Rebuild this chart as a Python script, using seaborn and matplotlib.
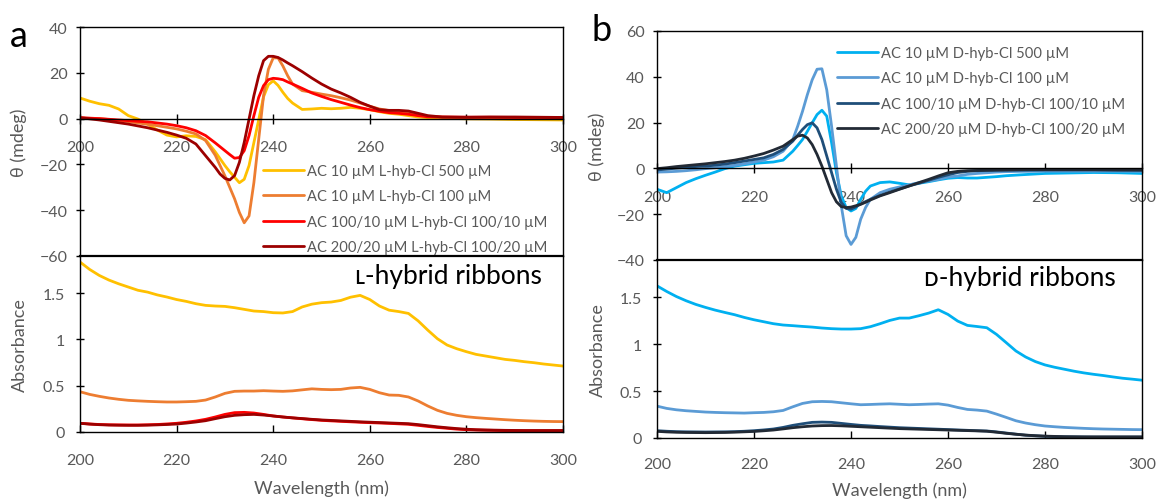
import numpy as np
import pandas as pd
import matplotlib
matplotlib.use("Agg")
import matplotlib.pyplot as plt
import seaborn as sns

# ---------------- data ----------------
CD_WL = [200, 202, 204, 206, 208, 210, 212, 214, 216, 218, 220, 222, 224, 226, 228, 229, 230, 231,
         232, 233, 234, 235, 236, 237, 238, 239, 240, 241, 242, 243, 244, 246, 248, 250, 252, 254,
         256, 258, 260, 262, 264, 266, 268, 270, 272, 275, 280, 285, 290, 295, 300]

CD_L_500 = [9.0, 7.6, 6.5, 5.8, 4.2, 1.3, -0.2, -2.4, -5.0, -7.2, -8.0, -7.5, -7.8, -9.2, -14.5, -17.5,
            -20.5, -23.2, -25.6, -28.0, -26.5, -20.5, -10.5, -0.5, 9.5, 14.8, 16.5, 14.5, 11.5, 8.8,
            6.8, 4.0, 4.2, 4.5, 4.3, 4.5, 4.9, 4.5, 3.9, 3.0, 2.3, 1.9, 1.3, 0.7, 0.4, 0.2, -0.1,
            -0.2, -0.4, -0.5, -0.6]
CD_L_100 = [0.3, 0.1, 0.0, -0.4, -0.9, -1.3, -1.9, -2.5, -3.1, -3.8, -4.5, -5.5, -6.7, -9.6, -16.0,
            -20.5, -25.0, -30.0, -35.0, -41.0, -45.5, -42.5, -28.0, -9.0, 10.0, 21.5, 26.5, 26.5,
            23.0, 18.7, 15.1, 12.2, 11.5, 10.7, 10.0, 9.1, 8.1, 6.8, 5.4, 4.2, 3.5, 3.0, 2.4, 1.6,
            1.0, 0.6, 0.5, 0.5, 0.4, 0.4, 0.3]
CD_L_100_10 = [0.4, 0.2, 0.0, -0.3, -0.6, -0.9, -1.2, -1.4, -1.9, -2.4, -3.1, -4.0, -5.3, -7.4, -10.6,
               -12.3, -14.0, -15.7, -17.3, -17.0, -14.0, -7.4, 1.3, 9.3, 14.4, 17.0, 17.6, 17.4,
               17.0, 16.0, 15.1, 13.2, 11.2, 9.7, 8.3, 7.1, 5.9, 4.8, 3.9, 3.2, 2.6, 2.3, 1.9, 1.3,
               0.8, 0.7, 0.6, 0.6, 0.5, 0.5, 0.4]
CD_L_100_20 = [0.4, -0.1, -0.6, -1.2, -1.8, -2.4, -3.2, -4.0, -5.0, -6.0, -7.2, -8.6, -11.1, -16.2,
               -21.3, -24.2, -26.1, -26.8, -24.9, -19.1, -10.4, -0.2, 10.0, 18.7, 25.3, 27.2, 27.2,
               26.7, 25.6, 24.3, 23.1, 20.5, 17.7, 15.1, 12.9, 11.2, 9.3, 7.1, 5.4, 3.9, 3.6, 3.6,
               3.3, 2.3, 1.3, 0.7, 0.6, 0.7, 0.7, 0.6, 0.5]

CD_D_500 = [-9.1, -10.6, -8.4, -6.2, -4.5, -3.0, -1.6, -0.1, 1.0, 1.6, 2.2, 2.5, 2.8, 3.6, 7.5, 10.0,
            12.6, 16.2, 19.9, 23.5, 25.4, 22.8, 11.2, -1.9, -12.0, -17.1, -18.6, -17.5, -13.5,
            -10.0, -7.7, -6.2, -5.9, -6.5, -7.2, -6.5, -5.8, -5.0, -4.3, -4.0, -4.2, -4.2, -3.9,
            -3.6, -3.2, -2.8, -2.2, -2.0, -1.8, -1.9, -2.2]
CD_D_100 = [-1.6, -1.5, -1.3, -1.0, -0.6, -0.1, 0.3, 0.8, 1.3, 2.0, 2.8, 3.6, 5.1, 7.5, 12.6, 18.4,
            24.9, 32.2, 38.7, 43.3, 43.5, 34.3, 18.4, 1.0, -16.4, -29.4, -33.2, -30.1, -22.2,
            -17.1, -13.5, -10.6, -9.1, -8.1, -7.2, -6.2, -5.5, -4.8, -3.8, -3.3, -2.6, -2.2, -1.9,
            -1.6, -1.4, -1.3, -1.2, -1.2, -1.2, -1.2, -1.3]
CD_D_100_10 = [-0.7, -0.3, 0.1, 0.5, 0.8, 1.0, 1.4, 1.9, 2.5, 3.2, 3.9, 4.6, 6.1, 8.3, 11.9, 14.5,
               17.0, 19.1, 19.9, 17.7, 12.6, 5.4, -1.9, -9.1, -14.9, -17.5, -17.8, -16.8, -15.5,
               -14.5, -13.5, -11.8, -10.3, -9.0, -7.6, -6.5, -5.2, -3.9, -2.8, -1.8, -1.3, -1.0,
               -0.9, -0.8, -0.7, -0.7, -0.6, -0.6, -0.6, -0.7, -0.8]
CD_D_100_20 = [-0.1, 0.3, 0.8, 1.2, 1.6, 2.0, 2.5, 3.0, 3.6, 4.4, 5.4, 6.5, 8.0, 9.7, 12.6, 14.1,
               14.5, 13.3, 10.4, 6.1, 1.0, -4.8, -10.6, -14.6, -16.7, -17.1, -16.9, -16.3, -15.7,
               -14.8, -13.8, -12.0, -10.6, -9.1, -7.7, -6.2, -4.8, -3.3, -1.9, -1.3, -1.0, -0.9,
               -0.8, -0.7, -0.7, -0.6, -0.6, -0.6, -0.6, -0.7, -0.7]

ABS_WL = [200, 202, 204, 206, 208, 210, 212, 214, 216, 218, 220, 222, 224, 226, 228, 230, 232, 234,
          236, 238, 240, 242, 244, 246, 248, 250, 252, 254, 256, 258, 260, 262, 264, 266, 268, 270,
          272, 274, 276, 278, 280, 282, 284, 286, 288, 290, 292, 294, 296, 298, 300]

ABS_L_500 = [1.835, 1.755, 1.69, 1.64, 1.60, 1.565, 1.53, 1.51, 1.48, 1.457, 1.43, 1.41, 1.385, 1.367,
             1.36, 1.356, 1.342, 1.324, 1.306, 1.30, 1.288, 1.285, 1.30, 1.35, 1.38, 1.396, 1.403,
             1.42, 1.455, 1.475, 1.43, 1.36, 1.315, 1.30, 1.28, 1.2, 1.1, 1.007, 0.939, 0.899,
             0.867, 0.838, 0.82, 0.802, 0.784, 0.773, 0.759, 0.748, 0.734, 0.723, 0.712]
ABS_L_100 = [0.435, 0.406, 0.385, 0.367, 0.353, 0.342, 0.336, 0.331, 0.327, 0.324, 0.324, 0.327,
             0.331, 0.345, 0.378, 0.417, 0.439, 0.442, 0.442, 0.446, 0.442, 0.439, 0.444, 0.455,
             0.466, 0.46, 0.457, 0.46, 0.475, 0.482, 0.46, 0.424, 0.399, 0.396, 0.378, 0.335,
             0.281, 0.234, 0.201, 0.18, 0.165, 0.155, 0.147, 0.14, 0.133, 0.127, 0.122, 0.118,
             0.115, 0.113, 0.112]
ABS_L_100_10 = [0.094, 0.087, 0.081, 0.078, 0.077, 0.076, 0.076, 0.078, 0.081, 0.087, 0.094, 0.105,
                0.119, 0.137, 0.162, 0.19, 0.209, 0.212, 0.205, 0.19, 0.173, 0.162, 0.152, 0.143,
                0.134, 0.126, 0.12, 0.115, 0.11, 0.105, 0.101, 0.097, 0.093, 0.088, 0.083, 0.072,
                0.06, 0.049, 0.04, 0.031, 0.025, 0.021, 0.019, 0.017, 0.015, 0.014, 0.014, 0.014,
                0.014, 0.014, 0.014]
ABS_L_100_20 = [0.094, 0.085, 0.079, 0.075, 0.073, 0.072, 0.072, 0.074, 0.077, 0.081, 0.086, 0.096,
                0.108, 0.122, 0.144, 0.165, 0.18, 0.187, 0.19, 0.183, 0.173, 0.162, 0.153, 0.145,
                0.137, 0.13, 0.125, 0.12, 0.115, 0.11, 0.106, 0.102, 0.098, 0.094, 0.09, 0.08,
                0.068, 0.056, 0.046, 0.037, 0.03, 0.025, 0.022, 0.02, 0.018, 0.017, 0.016, 0.016,
                0.016, 0.016, 0.016]

ABS_D_500 = [1.624, 1.564, 1.51, 1.465, 1.426, 1.394, 1.365, 1.34, 1.316, 1.287, 1.262, 1.241, 1.22,
             1.206, 1.199, 1.191, 1.184, 1.174, 1.167, 1.163, 1.163, 1.167, 1.188, 1.22, 1.255,
             1.28, 1.28, 1.305, 1.333, 1.369, 1.319, 1.248, 1.202, 1.19, 1.177, 1.106, 1.018,
             0.929, 0.865, 0.816, 0.78, 0.755, 0.734, 0.713, 0.695, 0.68, 0.667, 0.652, 0.638,
             0.628, 0.617]
ABS_D_100 = [0.34, 0.316, 0.301, 0.291, 0.284, 0.277, 0.273, 0.27, 0.268, 0.266, 0.27, 0.273, 0.28,
             0.294, 0.333, 0.369, 0.387, 0.39, 0.387, 0.376, 0.365, 0.355, 0.358, 0.362, 0.365,
             0.36, 0.355, 0.358, 0.362, 0.365, 0.351, 0.326, 0.305, 0.298, 0.287, 0.255, 0.22,
             0.184, 0.16, 0.142, 0.128, 0.12, 0.113, 0.108, 0.103, 0.099, 0.096, 0.094, 0.092,
             0.09, 0.089]
ABS_D_100_10 = [0.078, 0.072, 0.068, 0.066, 0.065, 0.064, 0.065, 0.066, 0.068, 0.072, 0.078, 0.086,
                0.096, 0.113, 0.135, 0.152, 0.167, 0.17, 0.167, 0.156, 0.145, 0.135, 0.129, 0.122,
                0.116, 0.11, 0.106, 0.102, 0.098, 0.094, 0.09, 0.086, 0.082, 0.078, 0.075, 0.065,
                0.053, 0.041, 0.03, 0.023, 0.018, 0.015, 0.013, 0.012, 0.011, 0.01, 0.01, 0.01,
                0.01, 0.01, 0.01]
ABS_D_100_20 = [0.071, 0.065, 0.061, 0.059, 0.058, 0.057, 0.058, 0.059, 0.062, 0.066, 0.07, 0.077,
                0.085, 0.097, 0.11, 0.12, 0.128, 0.132, 0.133, 0.13, 0.125, 0.12, 0.115, 0.11,
                0.105, 0.1, 0.097, 0.094, 0.091, 0.088, 0.085, 0.082, 0.079, 0.076, 0.072, 0.062,
                0.05, 0.04, 0.031, 0.025, 0.02, 0.017, 0.014, 0.013, 0.012, 0.012, 0.012, 0.012,
                0.012, 0.012, 0.012]

LABELS_L = ["AC 10 \u00b5M L-hyb-Cl 500 \u00b5M", "AC 10 \u00b5M L-hyb-Cl 100 \u00b5M",
            "AC 100/10 \u00b5M L-hyb-Cl 100/10 \u00b5M", "AC 200/20 \u00b5M L-hyb-Cl 100/20 \u00b5M"]
LABELS_D = ["AC 10 \u00b5M D-hyb-Cl 500 \u00b5M", "AC 10 \u00b5M D-hyb-Cl 100 \u00b5M",
            "AC 100/10 \u00b5M D-hyb-Cl 100/10 \u00b5M", "AC 200/20 \u00b5M D-hyb-Cl 100/20 \u00b5M"]
COLORS_L = ["#FFC000", "#ED7D31", "#FF0000", "#9C0000"]
COLORS_D = ["#00B0F0", "#5B9BD5", "#1F4E79", "#222A35"]

X_TICKS = [200, 220, 240, 260, 280, 300]

# ---------------- style ----------------
sns.set_theme(style="white")
plt.rcParams["font.family"] = ["Lato", "DejaVu Sans"]
GRAY = "#595959"

W, H = 1157, 502
fig = plt.figure(figsize=(W / 100, H / 100), dpi=100)


def fbox(x0, y0, x1, y1):
    return [x0 / W, 1 - y1 / H, (x1 - x0) / W, (y1 - y0) / H]


def style_top(ax, ylim):
    ax.set_xlim(200, 300)
    ax.set_ylim(*ylim)
    ax.set_xticks(X_TICKS)
    ax.set_yticks(np.arange(ylim[0], ylim[1] + 1, 20))
    ax.spines["bottom"].set_position(("data", 0))
    for s in ax.spines.values():
        s.set_color("black")
        s.set_linewidth(1.0)
    ax.tick_params(axis="x", direction="inout", length=7, width=1.0, color="black",
                   pad=12, labelsize=11.5, labelcolor=GRAY, bottom=True)
    ax.tick_params(axis="y", direction="inout", length=6, width=1.0, color="black",
                   pad=6, labelsize=11.5, labelcolor=GRAY, left=True)
    ax.set_xlabel("")
    ax.set_ylabel("\u03b8 (mdeg)", fontsize=13, color=GRAY, labelpad=4)


def style_bottom(ax, xpad, lpad):
    ax.set_xlim(200, 300)
    ax.set_ylim(0, 1.9)
    ax.set_xticks(X_TICKS)
    ax.set_yticks([0, 0.5, 1, 1.5])
    ax.set_yticklabels(["0", "0.5", "1", "1.5"])
    for s in ax.spines.values():
        s.set_color("black")
        s.set_linewidth(1.0)
    ax.spines["top"].set_linewidth(1.6)
    ax.tick_params(axis="x", direction="in", length=5, width=1.0, color="black",
                   pad=xpad, labelsize=11.5, labelcolor=GRAY, bottom=True)
    ax.tick_params(axis="y", direction="inout", length=6, width=1.0, color="black",
                   pad=8, labelsize=11.5, labelcolor=GRAY, left=True)
    ax.set_xlabel("Wavelength (nm)", fontsize=13, color=GRAY, labelpad=lpad)
    ax.set_ylabel("Absorbance", fontsize=13, color=GRAY, labelpad=8)
    ax.set_facecolor("white")


panels = [
    dict(top=fbox(80, 28, 563, 257), bot=fbox(80, 257, 563, 433), ylim=(-60, 40),
         cd=[CD_L_500, CD_L_100, CD_L_100_10, CD_L_100_20],
         ab=[ABS_L_500, ABS_L_100, ABS_L_100_10, ABS_L_100_20],
         labels=LABELS_L, colors=COLORS_L, leg=(263, 165), title="\u029f-hybrid ribbons",
         tpos=(355, 277), letter="a", lpos=(10, 47), xpad=15, lpad=9, ylx=(27, 28)),
    dict(top=fbox(657, 32, 1142, 261), bot=fbox(657, 261, 1142, 439), ylim=(-40, 60),
         cd=[CD_D_500, CD_D_100, CD_D_100_10, CD_D_100_20],
         ab=[ABS_D_500, ABS_D_100, ABS_D_100_10, ABS_D_100_20],
         labels=LABELS_D, colors=COLORS_D, leg=(837, 47), title="\u1d05-hybrid ribbons",
         tpos=(924, 279), letter="b", lpos=(591, 41), xpad=14, lpad=7, ylx=(605, 606)),
]

for p in panels:
    ax_t = fig.add_axes(p["top"])
    ax_b = fig.add_axes(p["bot"])
    ax_t.set_zorder(1)
    ax_b.set_zorder(2)

    cd_df = pd.DataFrame({"wl": CD_WL})
    ab_df = pd.DataFrame({"wl": ABS_WL})
    for i, (lab, col) in enumerate(zip(p["labels"], p["colors"])):
        cd_df[lab] = p["cd"][i]
        ab_df[lab] = p["ab"][i]
        sns.lineplot(data=cd_df, x="wl", y=lab, ax=ax_t, color=col, linewidth=2.0,
                     label=lab, estimator=None, sort=False)
        sns.lineplot(data=ab_df, x="wl", y=lab, ax=ax_b, color=col, linewidth=2.0,
                     estimator=None, sort=False, legend=False)

    style_top(ax_t, p["ylim"])
    style_bottom(ax_b, p["xpad"], p["lpad"])
    x0 = p["top"][0] * W
    ax_t.yaxis.set_label_coords((p["ylx"][0] - x0) / (p["top"][2] * W), 0.5)
    ax_b.yaxis.set_label_coords((p["ylx"][1] - x0) / (p["bot"][2] * W), 0.5)

    handles, labels = ax_t.get_legend_handles_labels()
    ax_t.legend(handles, labels, loc="upper left",
                bbox_to_anchor=(p["leg"][0] / W, 1 - p["leg"][1] / H),
                bbox_transform=fig.transFigure, frameon=False, fontsize=10.6,
                handlelength=2.8, handletextpad=0.2, labelspacing=0.78,
                borderpad=0, borderaxespad=0, labelcolor=GRAY)

    fig.text(p["tpos"][0] / W, 1 - p["tpos"][1] / H, p["title"], fontsize=19,
             color="black", ha="left", va="center", zorder=5)
    fig.text(p["lpos"][0] / W, 1 - p["lpos"][1] / H, p["letter"], fontsize=26,
             color="black", ha="left", va="baseline")

fig.savefig("out.png", dpi=100, facecolor="white")
